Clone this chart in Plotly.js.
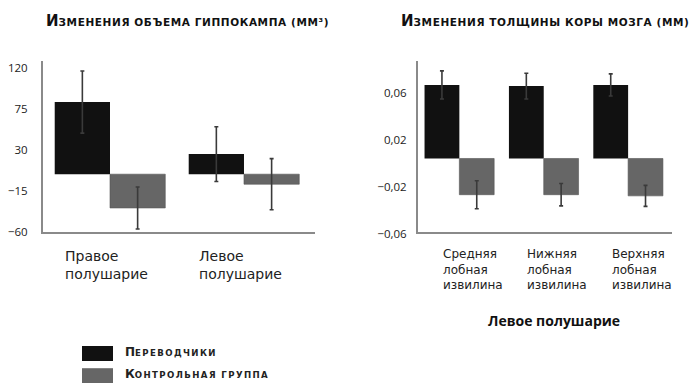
<!DOCTYPE html>
<html>
<head>
<meta charset="utf-8">
<script src="https://cdn.plot.ly/plotly-3.0.1.min.js"></script>
<style>html,body{margin:0;padding:0;background:#fff;}#chart{width:694px;height:383px;}</style>
</head>
<body>
<div id="chart"></div>
<script>
// ---- data ----
const seriesNames = ['Переводчики', 'Контрольная группа'];
const seriesColors = ['#111111', '#666666'];

const titleLeft = 'Изменения объема гиппокампа (мм³)';
const titleRight = 'Изменения толщины коры мозга (мм)';
const rightGroupLabel = 'Левое полушарие';

const categoriesLeft = ['Правое полушарие', 'Левое полушарие'];
const hippoTranslators = [79, 22];
const hippoTranslatorsErr = [34, 30];
const hippoControl = [-37, -11];
const hippoControlErr = [23, 28];
const ticksLeft = [-60, -15, 30, 75, 120];

const categoriesRight = ['Средняя лобная извилина', 'Нижняя лобная извилина', 'Верхняя лобная извилина'];
const cortexTranslators = [0.063, 0.062, 0.063];
const cortexTranslatorsErr = [0.012, 0.011, 0.0095];
const cortexControl = [-0.031, -0.031, -0.032];
const cortexControlErr = [0.012, 0.0096, 0.009];
const ticksRight = [-0.06, -0.02, 0.02, 0.06];

// ---- traces ----
function barTrace(x, y, err, idx, xa, ya) {
  return {
    type: 'bar', x: x, y: y, name: seriesNames[idx], xaxis: xa, yaxis: ya,
    showlegend: false, hoverinfo: 'skip',
    marker: {color: seriesColors[idx], line: {width: idx ? 0.6 : 0, color: '#555'}},
    error_y: {type: 'data', array: err, visible: true, color: '#3a3a3a', thickness: 1.6, width: 2}
  };
}
const data = [
  barTrace(categoriesLeft, hippoTranslators, hippoTranslatorsErr, 0, 'x', 'y'),
  barTrace(categoriesLeft, hippoControl, hippoControlErr, 1, 'x', 'y'),
  barTrace(categoriesRight, cortexTranslators, cortexTranslatorsErr, 0, 'x2', 'y2'),
  barTrace(categoriesRight, cortexControl, cortexControlErr, 1, 'x2', 'y2')
];

const W = 694, H = 383;
const px = v => v / W;
const py = v => 1 - v / H;

// small-caps look: big first letter, rest uppercase at smaller size, slightly spaced
function smallCaps(t, big, spacing) {
  return '<span style="font-size:' + big + 'px">' + t.charAt(0) + '</span>' +
    '<span style="letter-spacing:' + spacing + 'px">' + t.slice(1) + '</span>';
}

const axisLine = {showline: true, linecolor: '#8a8a8a', linewidth: 2, showgrid: false, zeroline: false, ticks: '', fixedrange: true};
const tickFont = {family: 'Open Sans, sans-serif', size: 11.5, color: '#222'};

const annotations = [];
const titleFont = {family: 'DejaVu Sans, sans-serif', size: 10.5, weight: 700, textcase: 'upper', color: '#111'};
annotations.push({text: smallCaps(titleLeft, 15, 0.6), xref: 'paper', yref: 'paper', x: px(188), y: py(21),
  xanchor: 'center', yanchor: 'middle', showarrow: false, font: titleFont});
annotations.push({text: smallCaps(titleRight, 15, 0.6), xref: 'paper', yref: 'paper', x: px(545), y: py(21),
  xanchor: 'center', yanchor: 'middle', showarrow: false, font: titleFont});

categoriesLeft.forEach((c, i) => annotations.push({
  text: c.split(' ').join('<br>'), xref: 'x', yref: 'paper', x: i - 0.35, y: py(265),
  xanchor: 'left', yanchor: 'middle', align: 'left', showarrow: false,
  font: {family: 'DejaVu Sans, sans-serif', size: 14, color: '#222'}
}));
categoriesRight.forEach((c, i) => annotations.push({
  text: c.split(' ').join('<br>'), xref: 'x2', yref: 'paper', x: i - 0.22, y: py(269.5),
  xanchor: 'left', yanchor: 'middle', align: 'left', showarrow: false,
  font: {family: 'DejaVu Sans, sans-serif', size: 12, color: '#222'}
}));
annotations.push({text: rightGroupLabel, xref: 'paper', yref: 'paper', x: px(554), y: py(320),
  xanchor: 'center', yanchor: 'middle', showarrow: false,
  font: {family: 'Open Sans, sans-serif', size: 14, weight: 700, color: '#111'}});

const shapes = [];
const legendRows = [353.5, 375.7];
const legendText = [351.5, 373.5];
seriesNames.forEach((n, i) => {
  shapes.push({type: 'rect', xref: 'paper', yref: 'paper', x0: px(82), x1: px(113), y0: py(legendRows[i] + 7.5), y1: py(legendRows[i] - 7.5),
    fillcolor: seriesColors[i], line: {width: 0}});
  annotations.push({text: smallCaps(n, 12, 1.4), xref: 'paper', yref: 'paper', x: px(123), y: py(legendText[i]), xanchor: 'left', yanchor: 'middle',
    showarrow: false, font: {family: 'DejaVu Sans, sans-serif', size: 8.6, weight: 700, textcase: 'upper', color: '#222'}});
});

const layout = {
  width: W, height: H, margin: {l: 0, r: 0, t: 0, b: 0},
  paper_bgcolor: '#fff', plot_bgcolor: '#fff',
  separators: ', ',
  barmode: 'group', bargap: 0.175, bargroupgap: 0,
  showlegend: false,
  xaxis: Object.assign({}, axisLine, {domain: [px(43), px(315)], range: [-0.5, 1.53], showticklabels: false, anchor: 'y'}),
  yaxis: Object.assign({}, axisLine, {domain: [py(231.7), py(61)], range: [-63, 124], tickvals: ticksLeft,
    tickfont: tickFont, ticklabelstandoff: 11, ticklabelshift: 3, anchor: 'x'}),
  xaxis2: Object.assign({}, axisLine, {domain: [px(418), px(672)], range: [-0.49, 2.52], showticklabels: false, anchor: 'y2'}),
  yaxis2: Object.assign({}, axisLine, {domain: [py(231.7), py(61)], range: [-0.0627, 0.0835], tickvals: ticksRight,
    tickformat: '.2f', tickfont: tickFont, ticklabelstandoff: 7, ticklabelshift: 5, anchor: 'x2'}),
  annotations: annotations,
  shapes: shapes
};

Plotly.newPlot('chart', data, layout, {staticPlot: true, displayModeBar: false});
</script>
</body>
</html>
